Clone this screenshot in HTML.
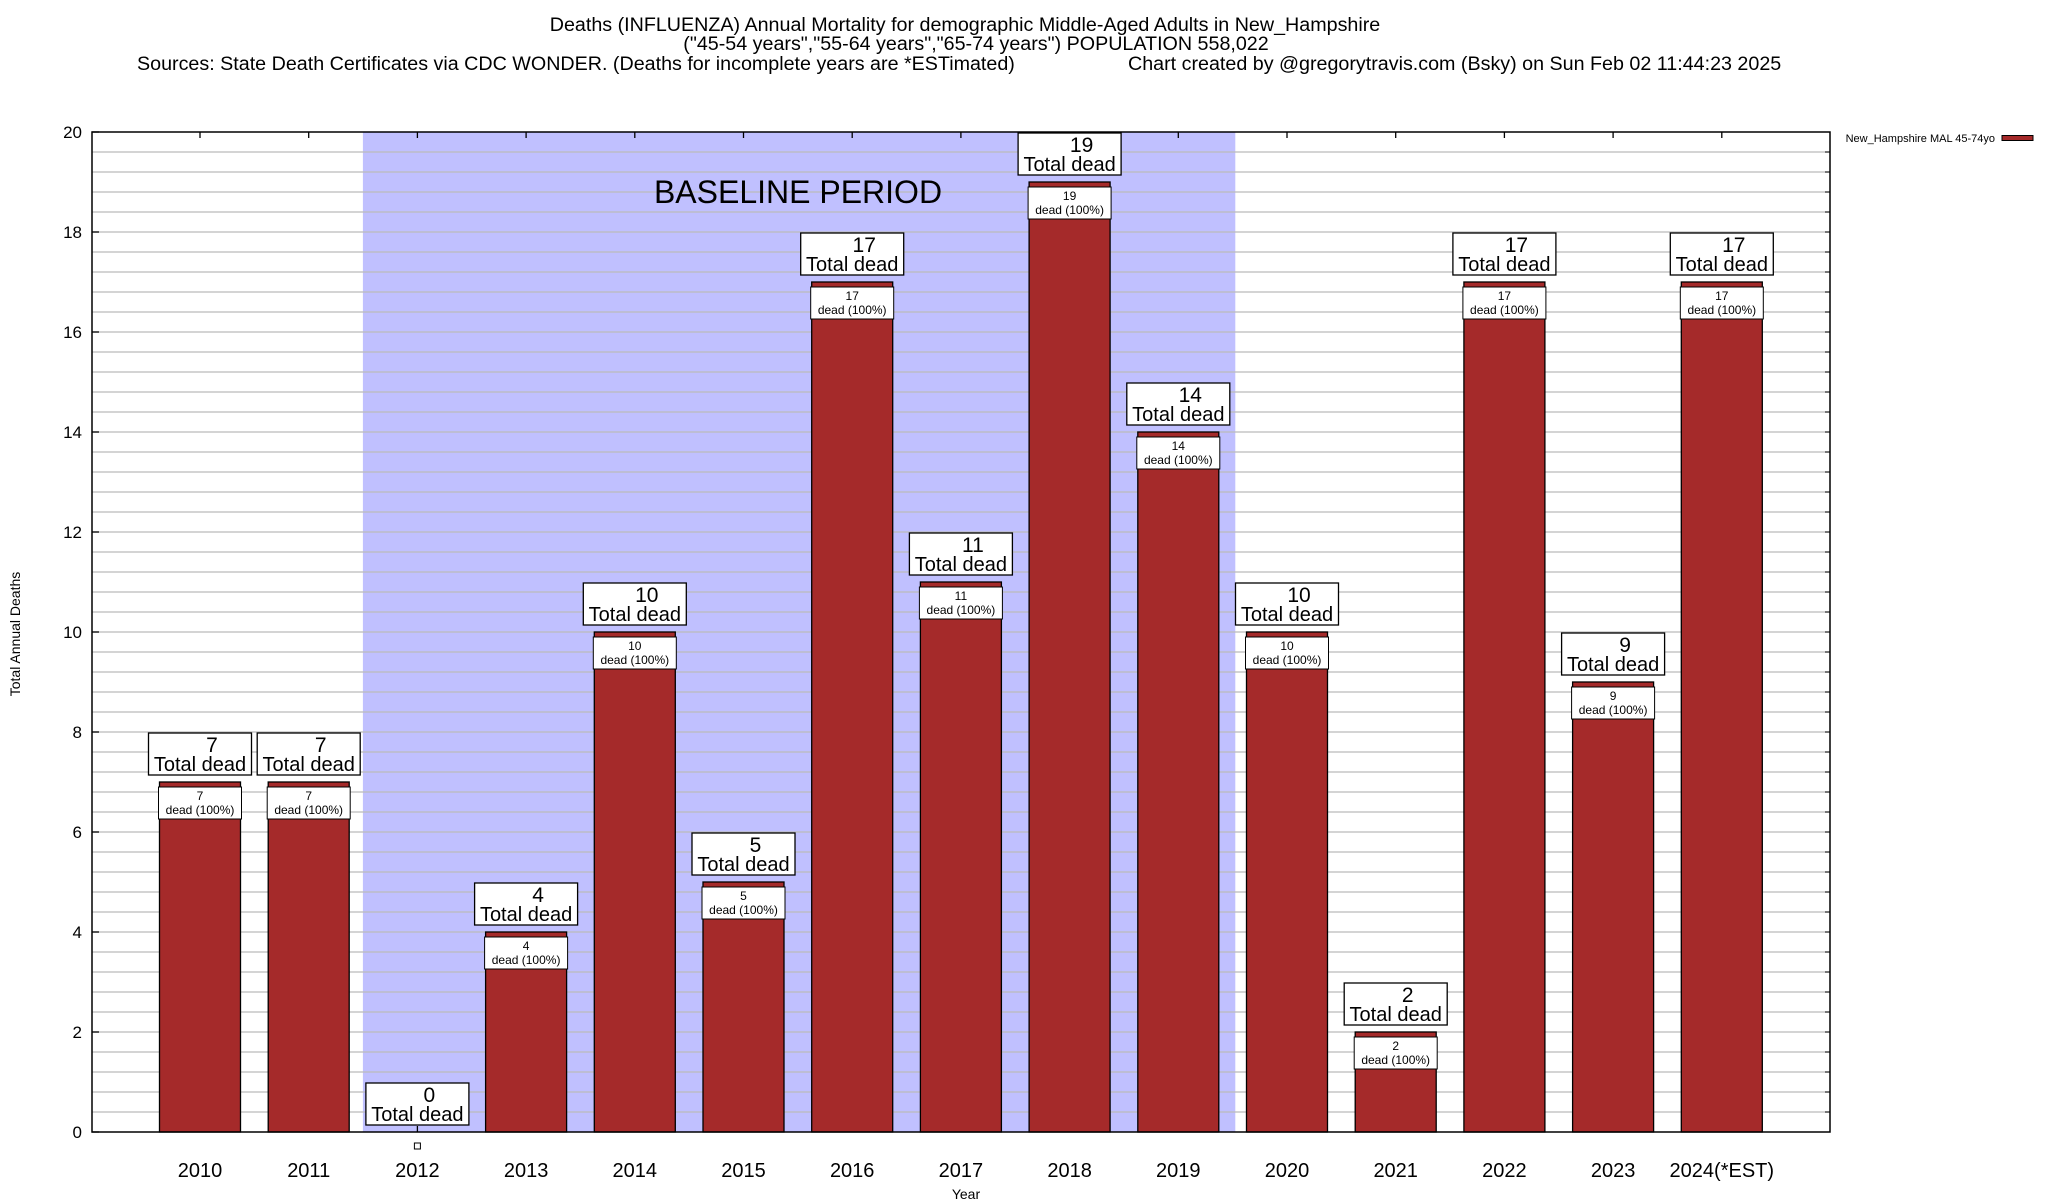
<!DOCTYPE html>
<html><head><meta charset="utf-8">
<style>
html,body{margin:0;padding:0;background:#fff;}
svg{display:block;font-family:"Liberation Sans",sans-serif;}
</style></head>
<body>
<svg id="chart" width="2048" height="1200" viewBox="0 0 2048 1200" xmlns="http://www.w3.org/2000/svg">
<g font-size="19.7" fill="#000">
<text x="965" y="31" text-anchor="middle">Deaths (INFLUENZA) Annual Mortality for demographic Middle-Aged Adults in New_Hampshire</text>
<text x="976" y="50" text-anchor="middle">("45-54 years","55-64 years","65-74 years") POPULATION 558,022</text>
<text x="137" y="70">Sources: State Death Certificates via CDC WONDER. (Deaths for incomplete years are *ESTimated)</text>
<text x="1128" y="70">Chart created by @gregorytravis.com (Bsky) on Sun Feb 02 11:44:23 2025</text>
</g>
<g id="plot"></g>
<text transform="translate(20,634) rotate(-90)" text-anchor="middle" font-size="14">Total Annual Deaths</text>
<text x="966" y="1199" text-anchor="middle" font-size="14">Year</text>
<g>
<text x="1995" y="142" text-anchor="end" font-size="11">New_Hampshire MAL 45-74yo</text>
<rect x="2002" y="135.5" width="31" height="5" fill="#a52a2a" stroke="#000" stroke-width="1"/>
</g>
</svg>
<script>
const categories = ["2010","2011","2012","2013","2014","2015","2016","2017","2018","2019","2020","2021","2022","2023","2024(*EST)"];
const deaths = [7,7,0,4,10,5,17,11,19,14,10,2,17,9,17];
const yTicks = [0,2,4,6,8,10,12,14,16,18,20];
const baselineRange = ["2012","2019"];

const NS="http://www.w3.org/2000/svg";
const L=92,R=1830,T=132,B=1132;
const yMax=20;
function y(v){return B-(v/yMax)*(B-T);}
const step=108.7;
function x(i){return 200+i*step;}
const plot=document.getElementById('plot');
function mk(tag,attrs,parent){const e=document.createElementNS(NS,tag);for(const k in attrs)e.setAttribute(k,attrs[k]);(parent||plot).appendChild(e);return e;}

const b0=categories.indexOf(baselineRange[0]),b1=categories.indexOf(baselineRange[1]);
const shade=mk('rect',{x:x(b0)-54.5,y:T,width:(x(b1)+57)-(x(b0)-54.5),height:B-T,fill:'#c0c0ff'});


for(let v=0.4;v<yMax-0.01;v+=0.4){
  const g=mk('line',{x1:L,x2:R,y1:y(v),y2:y(v),stroke:'#bbb','stroke-width':1.3});
  
  
  const t1=mk('line',{x1:R-5,x2:R,y1:y(v),y2:y(v),stroke:'#000','stroke-width':1});
  
  
}
const bl=mk('text',{x:798,y:203,'text-anchor':'middle','font-size':32});
bl.textContent='BASELINE PERIOD';



yTicks.forEach(v=>{
  const t=mk('text',{x:82,y:y(v)+6,'text-anchor':'end','font-size':17});
  t.textContent=v;
  
  
  const tk=mk('line',{x1:L,x2:L+7,y1:y(v),y2:y(v),stroke:'#000','stroke-width':1.3});
  
  
});

const bw=81;
categories.forEach((c,i)=>{
  const cx=x(i),v=deaths[i],top=y(v);
  const tt=mk('line',{x1:cx,x2:cx,y1:T,y2:T+6,stroke:'#000','stroke-width':1.3});
  
  
  const tb=mk('line',{x1:cx,x2:cx,y1:B,y2:B-6,stroke:'#000','stroke-width':1.3});
  
  
  const xl=mk('text',{x:cx,y:1177,'text-anchor':'middle','font-size':20});
  xl.textContent=c;
  
  
  if(v>0){
    const bar=mk('rect',{x:cx-bw/2,y:top,width:bw,height:B-top,fill:'#a52a2a',stroke:'#000','stroke-width':1.3});
    
    
    const ib=mk('rect',{x:cx-41.5,y:top+5,width:83,height:32,fill:'#fff',stroke:'#000','stroke-width':1});
    
    
    const i1=mk('text',{x:cx,y:top+18,'text-anchor':'middle','font-size':12});
    i1.textContent=v;
    
    
    const i2=mk('text',{x:cx,y:top+32,'text-anchor':'middle','font-size':12});
    i2.textContent='dead (100%)';
    
    
  } else {
    const m=mk('rect',{x:cx-3,y:B+11,width:6,height:6,fill:'#fff',stroke:'#000','stroke-width':1});
    
    
  }
  const bx=mk('rect',{x:cx-51.5,y:top-49,width:103,height:42,fill:'#fff',stroke:'#000','stroke-width':1.3});
  
  
  const t1=mk('text',{x:cx+12,y:top-30,'text-anchor':'middle','font-size':21});
  t1.textContent=v;
  
  
  const t2=mk('text',{x:cx,y:top-11,'text-anchor':'middle','font-size':20});
  t2.textContent='Total dead';
  
  
});
const frame=mk('rect',{x:L,y:T,width:R-L,height:B-T,fill:'none',stroke:'#000','stroke-width':1.5});


</script>
</body></html>
